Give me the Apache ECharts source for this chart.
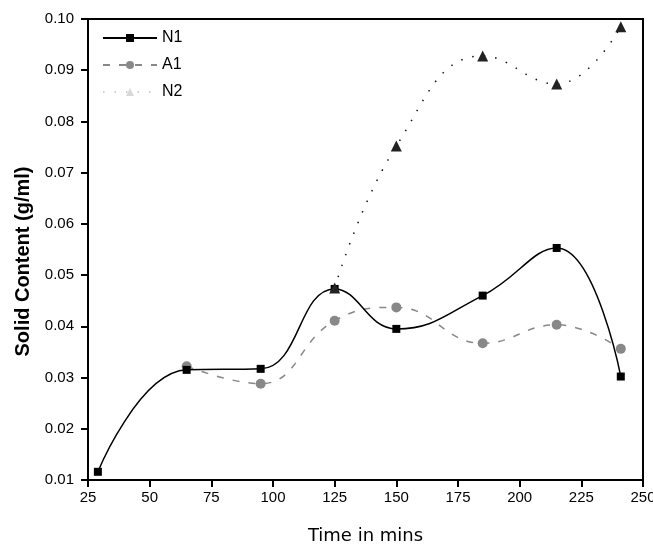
<!DOCTYPE html>
<html><head><meta charset="utf-8">
<script src="https://cdn.jsdelivr.net/npm/echarts@6/dist/echarts.min.js"></script>
<style>html,body{margin:0;padding:0;background:#fff}#c{width:653px;height:547px}</style>
</head><body><div id="c"></div>
<script>
const n1Time = [29, 65, 95, 125, 150, 185, 215, 241];
const n1Vals = [0.0116, 0.0315, 0.0317, 0.0473, 0.0395, 0.046, 0.0553, 0.0302];
const a1Time = [65, 95, 125, 150, 185, 215, 241];
const a1Vals = [0.0322, 0.0288, 0.0411, 0.0437, 0.0367, 0.0403, 0.0356];
const n2Time = [125, 150, 185, 215, 241];
const n2Vals = [0.0475, 0.0752, 0.0928, 0.0873, 0.0985];
const seriesNames = ['N1', 'A1', 'N2'];

const pair = (xs, ys) => xs.map((x, i) => [x, ys[i]]);
const font = 'Liberation Sans, Arial, sans-serif';
const chart = echarts.init(document.getElementById('c'));
chart.setOption({
  animation: false,
  backgroundColor: '#fff',
  grid: {left: 88, right: 10, top: 19, bottom: 67, show: true, borderColor: '#000', borderWidth: 2,
         containLabel: false, outerBoundsMode: 'none'},
  legend: {
    orient: 'vertical', left: 97, top: 25, itemWidth: 54, itemHeight: 10, itemGap: 11,
    textStyle: {fontFamily: font, fontSize: 16, color: '#000'},
    data: [
      {name: 'N1'},
      {name: 'A1'},
      {name: 'N2', itemStyle: {color: '#d8d8d8'}, lineStyle: {color: '#cfcfcf'}}
    ]
  },
  xAxis: {
    type: 'value', min: 25, max: 250, interval: 25,
    name: 'Time in mins', nameLocation: 'middle', nameGap: 47,
    nameTextStyle: {fontFamily: 'DejaVu Sans, sans-serif', fontSize: 18, color: '#000'},
    axisLine: {lineStyle: {color: '#000', width: 2}},
    axisTick: {length: 7, lineStyle: {color: '#000', width: 2}},
    axisLabel: {fontFamily: font, fontSize: 15, color: '#000', margin: 10},
    splitLine: {show: false}
  },
  yAxis: {
    type: 'value', min: 0.01, max: 0.10, interval: 0.01,
    name: 'Solid Content (g/ml)', nameLocation: 'middle', nameGap: 55,
    nameTextStyle: {fontFamily: font, fontSize: 20, fontWeight: 'bold', color: '#000', padding: [0, 24, 0, 0]},
    axisLine: {lineStyle: {color: '#000', width: 2}},
    axisTick: {length: 7, lineStyle: {color: '#000', width: 2}},
    axisLabel: {fontFamily: font, fontSize: 15, color: '#000', margin: 14, formatter: v => v.toFixed(2)},
    splitLine: {show: false}
  },
  series: [
    {name: seriesNames[0], type: 'line', smooth: 0.45, data: pair(n1Time, n1Vals), z: 3,
     symbol: 'rect', symbolSize: 8, itemStyle: {color: '#000'}, lineStyle: {color: '#000', width: 1.5}},
    {name: seriesNames[1], type: 'line', smooth: 0.45, data: pair(a1Time, a1Vals), z: 2,
     symbol: 'circle', symbolSize: 10, itemStyle: {color: '#888'}, lineStyle: {color: '#888', width: 1.5, type: [7, 9]}},
    {name: seriesNames[2], type: 'line', smooth: 0.45, data: pair(n2Time, n2Vals), z: 4,
     symbol: 'triangle', symbolSize: 11, itemStyle: {color: '#222'}, lineStyle: {color: '#111', width: 1.5, type: [1.5, 10]}}
  ]
});
</script></body></html>
